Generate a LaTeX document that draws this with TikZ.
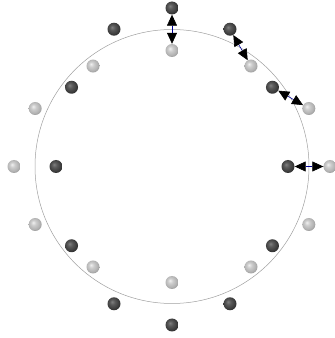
\documentclass[tikz,border=0pt]{standalone}
\usetikzlibrary{arrows.meta,calc}
\pgfdeclareradialshading{lightsph}{\pgfpoint{-8bp}{8bp}}{color(0bp)=(black!6); color(10bp)=(black!20); color(22bp)=(black!30); color(28bp)=(black!38); color(50bp)=(black!38)}
\pgfdeclareradialshading{darksph}{\pgfpoint{-8bp}{8bp}}{color(0bp)=(black!50); color(10bp)=(black!65); color(22bp)=(black!76); color(28bp)=(black!82); color(50bp)=(black!82)}
\tikzset{
  darkball/.style={circle, inner sep=0pt, minimum size=13pt, shading=darksph},
  lightball/.style={circle, inner sep=0pt, minimum size=13pt, shading=lightsph},
  pairarrow/.style={draw=blue!60!black, line width=0.6pt,
    {Triangle[length=11pt,width=10pt,color=black]}-{Triangle[length=11pt,width=10pt,color=black]}},
  ring/.style={draw=gray!75, line width=0.5pt}
}
\begin{document}
\begin{tikzpicture}[x=1pt,y=1pt]
\useasboundingbox (0,0) rectangle (335,338);
\coordinate (c) at (172,171.5);
\draw[ring] (c) circle (137);
\foreach \i in {0,...,11}{
  \pgfmathsetmacro{\t}{30*\i}
  \node[darkball] (d\i) at ($(c)+({116*cos(\t)},{158.5*sin(\t)})$) {};
  \node[lightball] (l\i) at ($(c)+({158*cos(\t)},{116*sin(\t)})$) {};
}
\foreach \i in {0,1,2,3}{
  \draw[pairarrow] (d\i) -- (l\i);
}
\end{tikzpicture}
\end{document}
